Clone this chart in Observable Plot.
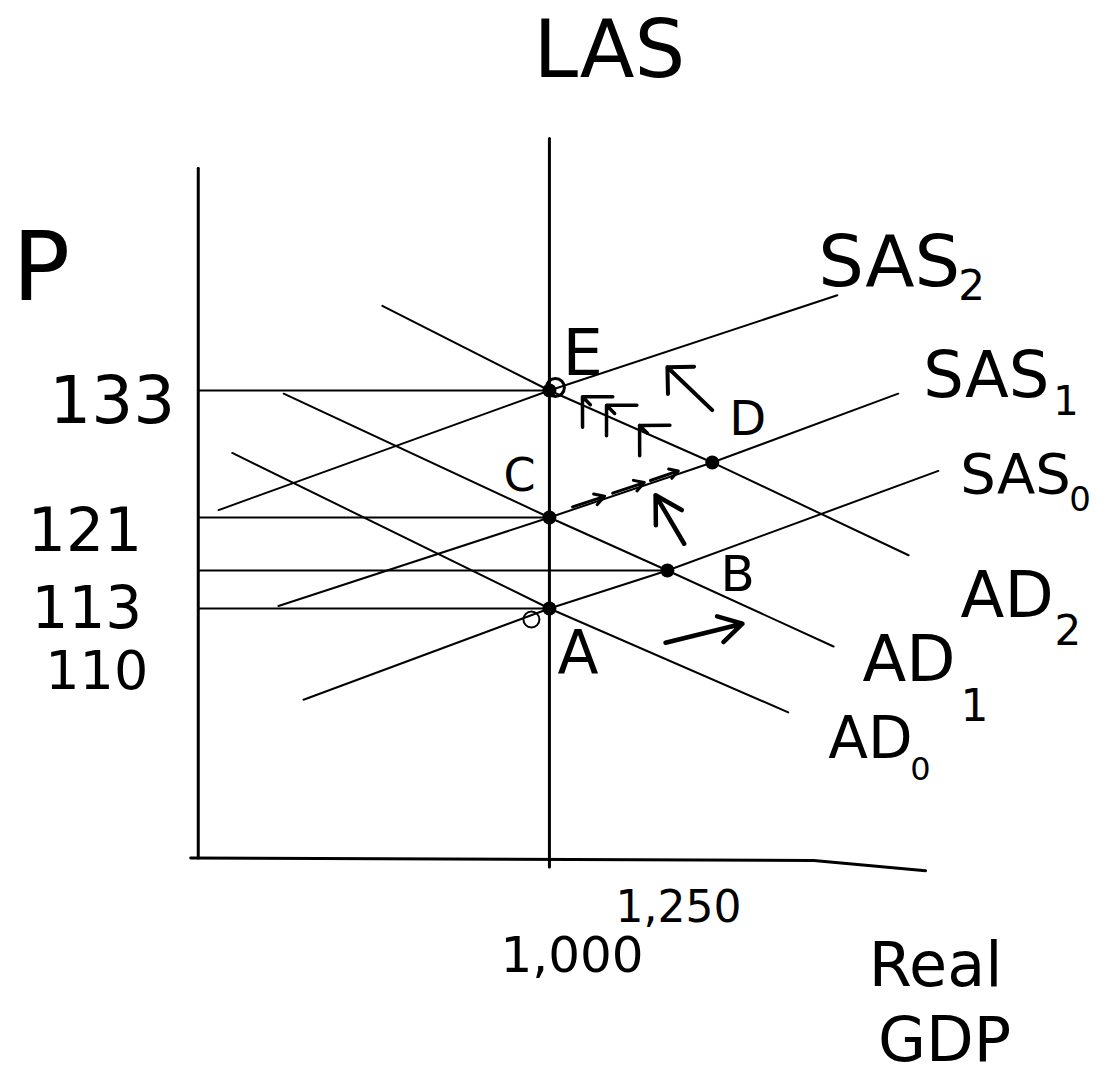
<!DOCTYPE html>
<html>
<head>
<meta charset="utf-8">
<script src="https://cdn.jsdelivr.net/npm/d3@7"></script>
<script src="https://cdn.jsdelivr.net/npm/@observablehq/plot@0.6"></script>
<style>
  html, body { margin: 0; padding: 0; background: #fff; }
  svg { display: block; }
</style>
</head>
<body>
<script>
const FONT = "DejaVu Sans";

// Tick values on the two axes
const priceTicks = [133, 121, 113, 110];
const gdpTicks = [1000, 1250];

// Labelled equilibria: real GDP and price level
const pointNames = ["A", "B", "C", "D", "E"];
const pointGdp = [1000, 1250, 1000, 1345, 1000];
const pointPrice = [110, 113, 121, 126.2, 133];

// Aggregate demand curves as [real GDP, price level]: start, crossings, end
const ad0 = [[328, 127.1], [1000, 110], [1506, 101.8]];
const ad1 = [[437, 132.7], [1000, 121], [1250, 113], [1602, 107.0]];
const ad2 = [[646, 141.0], [1000, 133], [1345, 126.2], [1761, 115.3]];

// Short-run aggregate supply curves
const sas0 = [[479, 102.8], [1000, 110], [1250, 113], [1824, 125.4]];
const sas1 = [[426, 110.2], [1000, 121], [1345, 126.2], [1739, 132.7]];
const sas2 = [[299, 121.7], [1000, 133], [1610, 142.0]];

// Long-run aggregate supply at potential GDP
const las = [[1000, 156.8], [1000, 89.6]];

// Axis lines
const priceAxis = [[256, 154.0], [256, 90.3]];
const gdpAxis = [[240, 90.3], [1560, 90.1], [1797, 89.3]];

// Bold shift arrows [gdp1, price1, gdp2, price2]
const demandShift = [[1246, 107.3, 1409, 108.8]];
const supplyShiftUp = [[1322, 112.8, 1225, 123.1]];
const towardE = [[1374, 129.9, 1250, 135.2]];
// Small arrows: along SAS1 from C to D, and up AD2 from D to E
const alongSas1 = [[1049, 122.0, 1117, 123.0], [1134, 123.3, 1201, 124.3], [1214, 124.5, 1273, 125.4]];
const alongAd2 = [[1210, 126.2, 1070, 132.4], [1261, 125.35, 1121, 131.6], [1331, 123.5, 1191, 129.7]];

// ---- tables built from the arrays above ----
const points = pointNames.map((name, i) => ({name, gdp: pointGdp[i], price: pointPrice[i]}));
const pointAt = (name) => points.find((d) => d.name === name);
const curves = [["AD0", ad0], ["AD1", ad1], ["AD2", ad2], ["SAS0", sas0], ["SAS1", sas1], ["SAS2", sas2]];
const curveRows = curves.flatMap(([name, rows]) => rows.map(([gdp, price]) => ({name, gdp, price})));
const guides = priceTicks.map((price) => ({price, from: priceAxis[0][0], to: points.find((d) => d.price === price).gdp}));

// ---- layout of the hand-placed labels (pixel offsets) ----
const tickLabelLayout = {
  133: {size: 66, dx: -23, dy: 32},
  121: {size: 60, dx: -56, dy: 33},
  113: {size: 58, dx: -56, dy: 57},
  110: {size: 54, dx: -50, dy: 80}
};
const gdpLabelLayout = {
  1000: {size: 50, dx: -49, dy: 114},
  1250: {size: 44, dx: -52, dy: 64}
};
const pointLabelLayout = {
  A: {size: 60, dx: 8, dy: 64},
  B: {size: 50, dx: 53, dy: 20},
  C: {size: 46, dx: -46, dy: -27},
  D: {size: 48, dx: 17, dy: -27},
  E: {size: 64, dx: 13, dy: -16}
};
const curveLabelLayout = {
  SAS2: {size: 72, dx: -19, dy: -9, subSize: 42, subDx: 121, subDy: 5},
  SAS1: {size: 64, dx: 25, dy: 3, subSize: 40, subDx: 155, subDy: 21},
  SAS0: {size: 56, dx: 22, dy: 22, subSize: 34, subDx: 131, subDy: 40},
  AD2: {size: 64, dx: 52, dy: 62, subSize: 42, subDx: 146, subDy: 90},
  AD1: {size: 64, dx: 29, dy: 34, subSize: 44, subDx: 127, subDy: 74},
  AD0: {size: 58, dx: 40, dy: 46, subSize: 32, subDx: 122, subDy: 68}
};

const ink = {stroke: "black", strokeLinecap: "round", strokeLinejoin: "round"};
const path = (rows, strokeWidth) =>
  Plot.line(rows, {x: (d) => d[0], y: (d) => d[1], strokeWidth, ...ink});
const word = (gdp, price, text, {size, dx, dy, anchor = "start"}) =>
  Plot.text([{gdp, price}], {
    x: "gdp", y: "price", text: () => text,
    fontSize: size, fontFamily: FONT, fill: "black",
    textAnchor: anchor, lineAnchor: "bottom", dx, dy
  });
const arrows = (rows, options) =>
  Plot.arrow(rows, {x1: (d) => d[0], y1: (d) => d[1], x2: (d) => d[2], y2: (d) => d[3], ...ink, ...options});

const marks = [
  // axes and long-run supply
  path(priceAxis, 3),
  path(gdpAxis, 3),
  path(las, 3),
  // guide lines from the price axis to each equilibrium
  Plot.link(guides, {x1: "from", x2: "to", y1: "price", y2: "price", strokeWidth: 2, ...ink}),
  // demand and supply curves
  Plot.line(curveRows, {x: "gdp", y: "price", z: "name", strokeWidth: 2, ...ink}),
  // equilibria
  Plot.dot(points, {x: "gdp", y: "price", r: 7, fill: "black"}),
  Plot.dot([pointAt("E")], {x: "gdp", y: "price", r: 9, fill: "none", stroke: "black", strokeWidth: 3, dx: 6, dy: -3}),
  Plot.dot([pointAt("A")], {x: "gdp", y: "price", r: 8, fill: "none", stroke: "black", strokeWidth: 2, dx: -18, dy: 11}),
  // arrows
  arrows(demandShift, {strokeWidth: 4.5, headLength: 9}),
  arrows(supplyShiftUp, {strokeWidth: 4.5, headLength: 10, insetStart: 34}),
  arrows(towardE, {strokeWidth: 4, headLength: 10, headAngle: 90, insetStart: 19}),
  arrows(alongSas1, {strokeWidth: 3, headLength: 6}),
  arrows(alongAd2, {strokeWidth: 3.5, headLength: 13, headAngle: 90, insetStart: 82}),
  // axis titles
  word(las[0][0], las[0][1], "LAS", {size: 80, dx: 60, dy: -62, anchor: "middle"}),
  word(priceAxis[0][0], priceAxis[0][1], "P", {size: 96, dx: -186, dy: 132}),
  word(gdpAxis[2][0], gdpAxis[2][1], "Real", {size: 62, dx: 10, dy: 115, anchor: "middle"}),
  word(gdpAxis[2][0], gdpAxis[2][1], "GDP", {size: 62, dx: 19, dy: 190, anchor: "middle"}),
  // tick labels
  ...priceTicks.map((p) => word(priceAxis[0][0], p, String(p), {...tickLabelLayout[p], anchor: "end"})),
  ...gdpTicks.map((g) => word(g, gdpAxis[0][1], d3.format(",")(g), gdpLabelLayout[g])),
  // point labels
  ...points.map((d) => word(d.gdp, d.price, d.name, pointLabelLayout[d.name])),
  // curve labels with subscripts, placed at each curve's end
  ...curves.flatMap(([name, rows]) => {
    const [gdp, price] = rows[rows.length - 1];
    const L = curveLabelLayout[name];
    return [
      word(gdp, price, name.slice(0, -1), {size: L.size, dx: L.dx, dy: L.dy}),
      word(gdp, price, name.slice(-1), {size: L.subSize, dx: L.subDx, dy: L.subDy})
    ];
  })
];

const chart = Plot.plot({
  width: 1112,
  height: 1078,
  margin: 0,
  style: {background: "white", overflow: "visible"},
  x: {type: "linear", domain: [-163, 2193], axis: null},
  // the price axis is not drawn to scale: each labelled level sits where it is marked
  y: {type: "linear", domain: [110, 113, 121, 133], range: [608, 570, 517, 390], axis: null},
  marks
});

document.body.appendChild(chart);
</script>
</body>
</html>
